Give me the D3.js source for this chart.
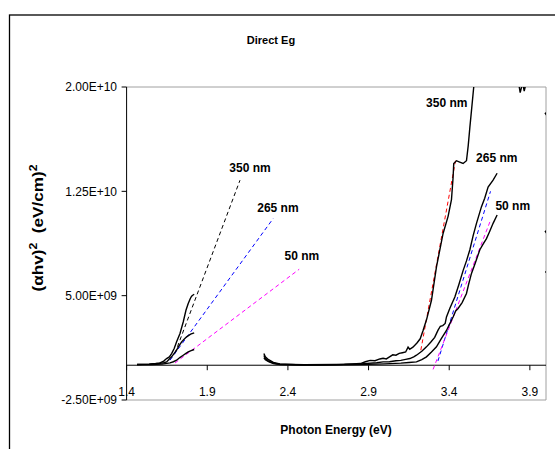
<!DOCTYPE html>
<html lang="en">
<head>
<meta charset="UTF-8">
<title>Direct Eg</title>
<style>
  body { margin: 0; background: #fff; }
  svg { display: block; font-family: "Liberation Sans", Arial, sans-serif; }
</style>
</head>
<body>
<svg id="chart" width="555" height="449"></svg>
<script src="https://d3js.org/d3.v7.min.js"></script>
<script>
// values in units of 1e9 (eV/cm)^2, energy in eV
const UNIT = 1e9;
const xTicks = [1.4, 1.9, 2.4, 2.9, 3.4, 3.9];
const yTicks = [-2.5, 5, 12.5, 20];

// measured curves, low energy part
const left350 = [[1.465,0.05],[1.50,0.06],[1.54,0.08],[1.58,0.12],[1.607,0.17],[1.63,0.3],[1.648,0.48],[1.665,0.6],[1.679,0.84],[1.695,1.2],[1.710,1.68],[1.731,2.28],[1.751,3.11],[1.768,3.95],[1.782,4.44],[1.795,4.8],[1.803,4.96],[1.812,5.05],[1.819,5.1]];
const left265 = [[1.465,0.05],[1.54,0.07],[1.60,0.12],[1.63,0.18],[1.648,0.24],[1.665,0.45],[1.679,0.6],[1.695,0.85],[1.710,1.08],[1.725,1.4],[1.741,1.68],[1.755,1.85],[1.772,2.04],[1.797,2.23],[1.819,2.32]];
const left50 = [[1.465,0.04],[1.55,0.05],[1.62,0.08],[1.669,0.17],[1.690,0.25],[1.710,0.36],[1.73,0.55],[1.751,0.72],[1.768,0.85],[1.782,0.96],[1.80,1.05],[1.819,1.13]];

// measured curves, high energy part
const right350 = [[2.251,0.85],[2.26,0.6],[2.28,0.4],[2.31,0.2],[2.35,0.1],[2.45,0.04],[2.6,0.03],[2.75,0.06],[2.85,0.12],[2.88,0.25],[2.91,0.35],[2.94,0.32],[2.97,0.45],[2.99,0.5],[3.01,0.45],[3.03,0.6],[3.05,0.75],[3.07,0.72],[3.09,0.85],[3.11,0.9],[3.13,0.95],[3.145,1.3],[3.155,1.15],[3.175,1.3],[3.20,1.6],[3.22,1.9],[3.238,2.5],[3.26,3.3],[3.29,4.67],[3.321,7.07],[3.362,9.47],[3.393,10.7],[3.414,11.9],[3.424,13.5],[3.428,14.5],[3.445,14.7],[3.465,14.6],[3.486,14.5],[3.507,14.7],[3.518,15.8],[3.528,17.1],[3.538,18.3],[3.552,20.0],[3.57,21.5],[3.65,23],[3.75,23],[3.82,21],[3.84,19.6],[3.855,20.3],[3.865,19.7],[3.88,20.5],[3.92,23],[3.97,23],[4.03,23],[4.03,18.4],[3.996,18.1],[4.03,17.6],[4.03,10.0],[3.996,9.6],[4.03,9.1],[4.03,6.75],[3.995,6.7],[4.03,6.7]];
const right265 = [[2.251,0.7],[2.26,0.5],[2.28,0.3],[2.31,0.15],[2.35,0.07],[2.5,0.03],[2.7,0.05],[2.85,0.1],[2.95,0.18],[2.99,0.24],[3.03,0.25],[3.07,0.32],[3.10,0.35],[3.13,0.42],[3.156,0.48],[3.18,0.6],[3.197,0.72],[3.23,1.0],[3.259,1.32],[3.285,1.65],[3.31,2.0],[3.33,2.5],[3.345,2.8],[3.36,2.85],[3.375,3.0],[3.383,3.47],[3.404,4.1],[3.435,4.9],[3.46,5.8],[3.486,6.8],[3.507,7.5],[3.528,8.3],[3.548,9.3],[3.569,10.2],[3.6,11.4],[3.62,12.0],[3.641,12.8],[3.672,13.3],[3.697,13.8]];
const right50 = [[2.251,0.55],[2.26,0.4],[2.28,0.25],[2.31,0.12],[2.35,0.05],[2.5,0.02],[2.7,0.03],[2.9,0.06],[3.0,0.1],[3.1,0.15],[3.15,0.2],[3.197,0.24],[3.23,0.4],[3.259,0.6],[3.29,0.95],[3.321,1.32],[3.35,1.9],[3.383,2.5],[3.40,2.9],[3.424,3.47],[3.44,3.9],[3.455,4.08],[3.48,4.5],[3.507,5.16],[3.52,5.8],[3.538,6.6],[3.56,7.3],[3.59,8.3],[3.61,8.7],[3.631,9.1],[3.65,9.6],[3.672,10.2],[3.697,10.8]];

// linear fits (dashed)
const fits = [
  { pts: [[1.70,0.86],[2.103,13.3]], color: "#000000" },
  { pts: [[1.669,0.36],[2.309,10.55]], color: "#0000ff" },
  { pts: [[1.70,0.16],[2.47,6.9]], color: "#ff00ff" },
  { pts: [[3.224,1.08],[3.439,14.7]], color: "#ff0000" },
  { pts: [[3.33,0.3],[3.656,12.5]], color: "#0000ff" },
  { pts: [[3.30,-0.3],[3.652,10.3]], color: "#ff00ff" }
];

const labels = [
  { text: "350 nm", x: 2.165, y: 14.16 },
  { text: "265 nm", x: 2.338, y: 11.29 },
  { text: "50 nm",  x: 2.487, y: 7.84 },
  { text: "350 nm", x: 3.385, y: 18.84 },
  { text: "265 nm", x: 3.695, y: 14.88 },
  { text: "50 nm",  x: 3.794, y: 11.43 }
];

const svg = d3.select("#chart");
const pLeft = 126.6, pRight = 546, pTop = 87, pBottom = 400;

const x = d3.scaleLinear().domain([1.4, 4.0]).range([pLeft, pRight]);
const y = d3.scaleLinear().domain([-2.5, 20]).range([pBottom, pTop]);

function sci(v) {
  v = v * UNIT;
  const e = Math.floor(Math.log10(Math.abs(v)));
  const m = (v / Math.pow(10, e)).toFixed(2);
  return m + "E+" + String(e).padStart(2, "0");
}

// outer chart frame
svg.append("rect")
  .attr("x", 9.5).attr("y", 15).attr("width", 600).attr("height", 500)
  .attr("fill", "none").attr("stroke", "#000").attr("stroke-width", 1.3);

// plot area border
svg.append("path")
  .attr("d", `M${pLeft},${pTop}H${pRight}V${pBottom}H${pLeft}`)
  .attr("fill", "none").attr("stroke", "#a0a0a0").attr("stroke-width", 1);

svg.append("clipPath").attr("id", "clip")
  .append("rect").attr("x", pLeft).attr("y", pTop)
  .attr("width", pRight - pLeft).attr("height", pBottom - pTop);

// y axis
svg.append("line")
  .attr("x1", pLeft).attr("x2", pLeft).attr("y1", pTop).attr("y2", pBottom)
  .attr("stroke", "#000");
const yg = svg.append("g");
yg.selectAll("line").data(yTicks).enter().append("line")
  .attr("x1", pLeft - 5).attr("x2", pLeft)
  .attr("y1", d => y(d)).attr("y2", d => y(d))
  .attr("stroke", "#000");
yg.selectAll("text").data(yTicks).enter().append("text")
  .attr("x", 117).attr("y", d => y(d)).attr("dy", "0.35em")
  .attr("text-anchor", "end").attr("font-size", 12)
  .text(sci);

// x axis at y = 0
svg.append("line")
  .attr("x1", pLeft).attr("x2", pRight).attr("y1", y(0)).attr("y2", y(0))
  .attr("stroke", "#000");
const xg = svg.append("g");
xg.selectAll("line").data(xTicks).enter().append("line")
  .attr("x1", d => x(d)).attr("x2", d => x(d))
  .attr("y1", y(0)).attr("y2", y(0) + 5)
  .attr("stroke", "#000");
xg.selectAll("text").data(xTicks).enter().append("text")
  .attr("x", d => x(d)).attr("y", 396)
  .attr("text-anchor", "middle").attr("font-size", 12)
  .text(d => d.toFixed(1));

const line = d3.line().x(d => x(d[0])).y(d => y(d[1]));
const plot = svg.append("g").attr("clip-path", "url(#clip)");

plot.selectAll(".fit").data(fits).enter().append("path")
  .attr("class", "fit")
  .attr("d", d => line(d.pts))
  .attr("fill", "none").attr("stroke", d => d.color)
  .attr("stroke-width", 1).attr("stroke-dasharray", "4,3");

plot.selectAll(".curve").data([left350, left265, left50, right350, right265, right50])
  .enter().append("path")
  .attr("class", "curve")
  .attr("d", line)
  .attr("fill", "none").attr("stroke", "#000").attr("stroke-width", 1.4);

svg.selectAll(".lab").data(labels).enter().append("text")
  .attr("class", "lab")
  .attr("x", d => x(d.x)).attr("y", d => y(d.y)).attr("dy", "0.35em")
  .attr("text-anchor", "middle").attr("font-size", 12).attr("font-weight", "bold")
  .text(d => d.text);

// titles
svg.append("text")
  .attr("x", 271).attr("y", 44).attr("text-anchor", "middle")
  .attr("font-size", 11).attr("font-weight", "bold")
  .text("Direct Eg");

svg.append("text")
  .attr("x", 336).attr("y", 434).attr("text-anchor", "middle")
  .attr("font-size", 12).attr("font-weight", "bold")
  .text("Photon Energy (eV)");

const yl = svg.append("text")
  .attr("transform", "translate(43,228) rotate(-90)")
  .attr("text-anchor", "middle")
  .attr("font-size", 14).attr("font-weight", "bold")
  .attr("textLength", 127).attr("lengthAdjust", "spacingAndGlyphs")
  .attr("xml:space", "preserve");
yl.append("tspan").text("(αhv)");
yl.append("tspan").attr("dy", -6).attr("font-size", 10).text("2");
yl.append("tspan").attr("dy", 6).text("  (eV/cm)");
yl.append("tspan").attr("dy", -6).attr("font-size", 10).text("2");
</script>
</body>
</html>
